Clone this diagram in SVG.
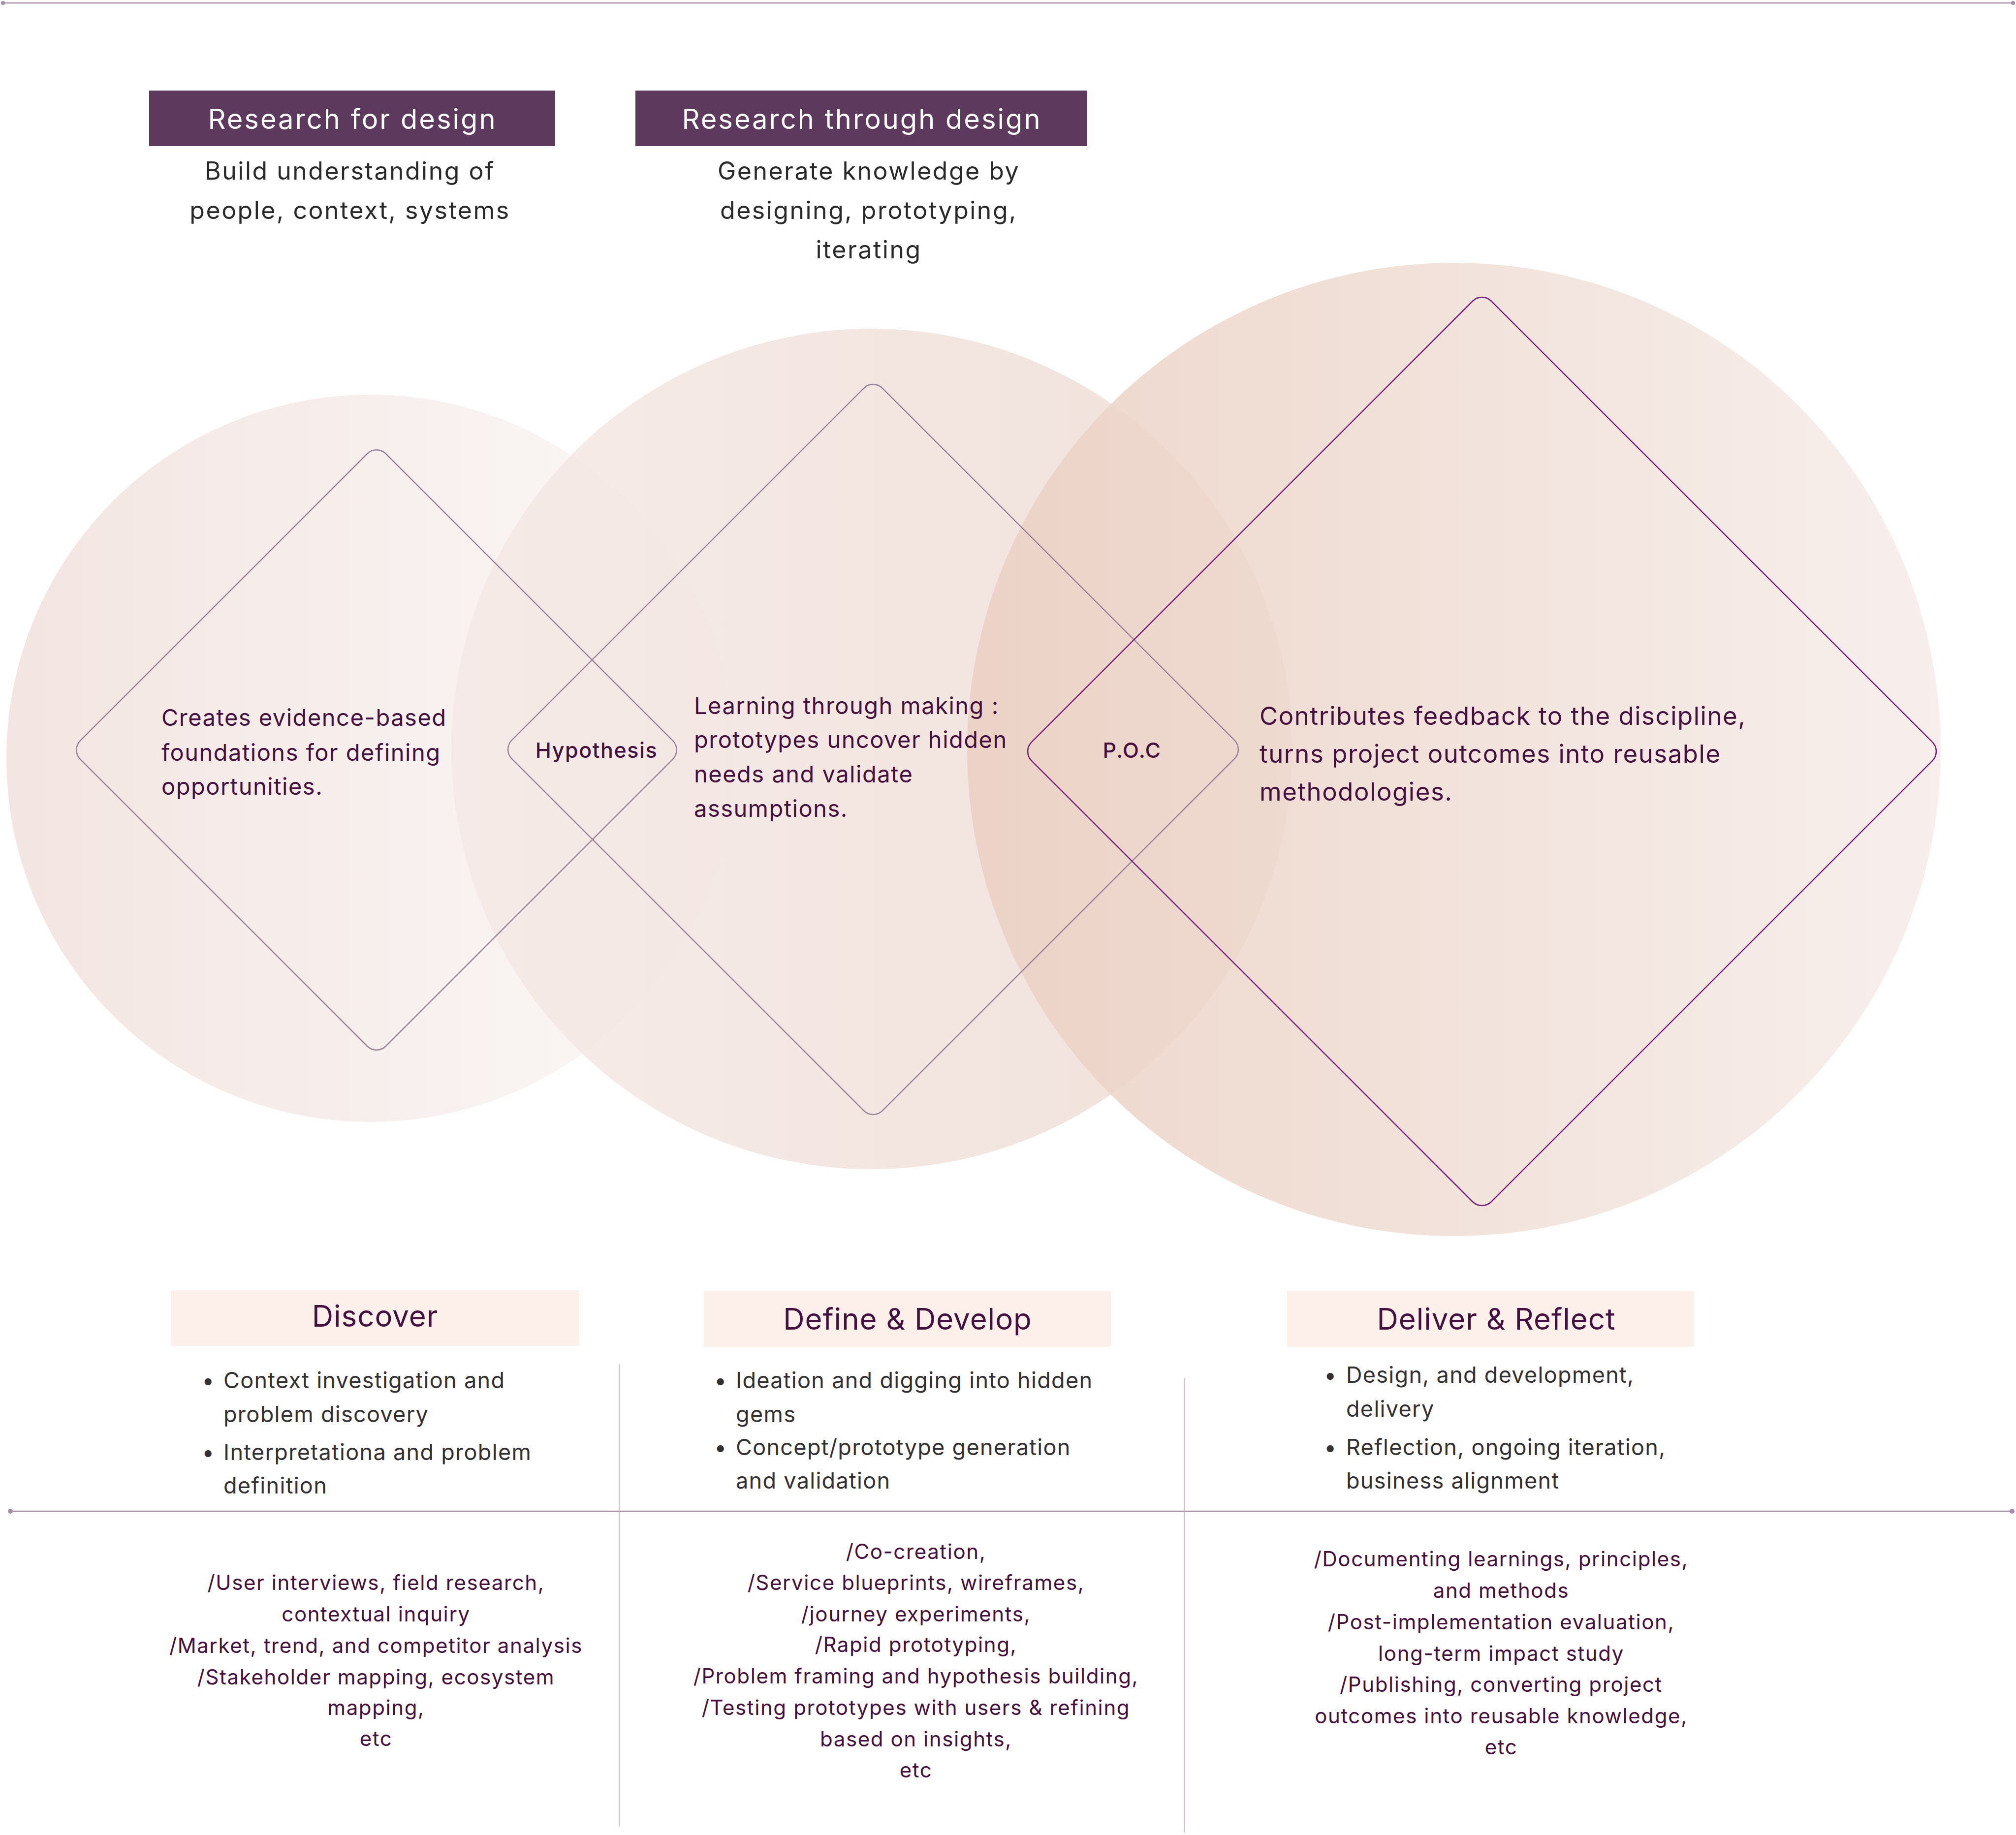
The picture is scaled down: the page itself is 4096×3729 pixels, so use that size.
<svg xmlns="http://www.w3.org/2000/svg" width="4096" height="3729" viewBox="0 0 4096 3729">
<defs>
<linearGradient id="gL" x1="0" y1="0" x2="1" y2="0">
<stop offset="0" stop-color="#f3e5e1"/><stop offset="0.6" stop-color="#f8f1ef"/><stop offset="1" stop-color="#fcf9f8"/>
</linearGradient>
<linearGradient id="gM" x1="0" y1="0" x2="1" y2="0">
<stop offset="0" stop-color="#f5e9e6"/><stop offset="1" stop-color="#eedbd3"/>
</linearGradient>
<linearGradient id="gR" x1="0" y1="0" x2="1" y2="0">
<stop offset="0" stop-color="#ebcfc2"/><stop offset="0.45" stop-color="#efdcd3"/><stop offset="1" stop-color="#f6ece9"/>
</linearGradient>
<style>
.rule{stroke:#a58ea4;stroke-width:2.5;fill:none}
.cap{fill:#a58ea4}
.div{stroke:#bcaebc;stroke-width:1.6}
.dia{fill:none;stroke:#9c8399;stroke-width:2.5}
.diaR{fill:none;stroke:#76207a;stroke-width:2.5}
.hbox{fill:#5e395e}
.pbox{fill:#fdf0ea}
text{font-family:Inter,"Open Sans","Liberation Sans",sans-serif}
.ht{fill:#ffffff;font-size:56px;letter-spacing:3px;text-anchor:middle}
.sub{fill:#2b282b;font-size:50px;letter-spacing:2.5px;text-anchor:middle}
.body{fill:#44103f;font-size:47px;letter-spacing:1.5px}
.bodyR{fill:#44103f;font-size:51px;letter-spacing:1.5px}
.tag{fill:#44103f;font-size:43px;font-weight:500;letter-spacing:1.6px;text-anchor:middle}
.ph{fill:#44103f;font-size:60px;letter-spacing:1px;text-anchor:middle}
.bl{fill:#333033;font-size:45px;letter-spacing:1.3px}
.ls{fill:#44103f;font-size:42px;letter-spacing:1.6px;text-anchor:middle}
</style>
</defs>
<rect width="4096" height="3729" fill="#ffffff"/>

<g id="circles">
<circle id="circle-left" cx="752" cy="1541" r="739" fill="url(#gL)"/>
<circle id="circle-middle" cx="1771" cy="1522" r="854" fill="url(#gM)" fill-opacity="0.85"/>
<circle id="circle-right" cx="2954" cy="1523" r="989" fill="url(#gR)" fill-opacity="0.85"/>
</g>

<g id="connectors">
<line class="rule" x1="6" y1="6" x2="4090" y2="6"/>
<circle class="cap" cx="6" cy="6" r="4"/>
<circle class="cap" cx="4090" cy="6" r="4"/>
<line class="rule" x1="21" y1="3071" x2="4088" y2="3071"/>
<circle class="cap" cx="21" cy="3071" r="5"/>
<circle class="cap" cx="4088" cy="3071" r="5"/>
<line class="div" x1="1258" y1="2772" x2="1258" y2="3712"/>
<line class="div" x1="2406" y1="2800" x2="2406" y2="3724"/>
</g>

<g id="diamond-discover">
<rect class="dia" x="326" y="1085" width="878" height="878" rx="27" transform="rotate(45 765 1524)"/>
<text class="body" x="328" y="1475">Creates evidence-based</text>
<text class="body" x="328" y="1546">foundations for defining</text>
<text class="body" x="328" y="1615">opportunities.</text>
</g>

<g id="diamond-define">
<rect class="dia" x="1241.5" y="990.5" width="1065" height="1065" rx="27" transform="rotate(45 1774 1523)"/>
<text class="body" x="1410" y="1451">Learning through making :</text>
<text class="body" x="1410" y="1520">prototypes uncover hidden</text>
<text class="body" x="1410" y="1590">needs and validate</text>
<text class="body" x="1410" y="1660">assumptions.</text>
</g>

<g id="diamond-deliver">
<rect class="diaR" x="2350.5" y="866.5" width="1321" height="1321" rx="27" transform="rotate(45 3011 1527)"/>
<text class="bodyR" x="2559" y="1473">Contributes feedback to the discipline,</text>
<text class="bodyR" x="2559" y="1550">turns project outcomes into reusable</text>
<text class="bodyR" x="2559" y="1627">methodologies.</text>
</g>

<g id="hypothesis">
<text class="tag" x="1212" y="1540">Hypothesis</text>
</g>
<g id="poc">
<text class="tag" x="2300" y="1540">P.O.C</text>
</g>

<g id="research-for-design">
<rect class="hbox" x="303" y="184" width="825" height="113"/>
<text class="ht" x="716" y="262">Research for design</text>
<text class="sub" x="711" y="365">Build understanding of</text>
<text class="sub" x="711" y="445">people, context, systems</text>
</g>

<g id="research-through-design">
<rect class="hbox" x="1291" y="184" width="918" height="113"/>
<text class="ht" x="1751" y="262">Research through design</text>
<text class="sub" x="1765" y="365">Generate knowledge by</text>
<text class="sub" x="1765" y="445">designing, prototyping,</text>
<text class="sub" x="1765" y="525">iterating</text>
</g>

<g id="phase-discover">
<rect class="pbox" x="348" y="2622" width="829" height="113"/>
<text class="ph" x="762" y="2696">Discover</text>
<text class="bl" x="410" y="2821">•</text>
<text class="bl" x="454" y="2821">Context investigation and</text>
<text class="bl" x="454" y="2890">problem discovery</text>
<text class="bl" x="410" y="2967">•</text>
<text class="bl" x="454" y="2967">Interpretationa and problem</text>
<text class="bl" x="454" y="3035">definition</text>
<text class="ls" x="764" y="3231">/User interviews, field research,</text>
<text class="ls" x="764" y="3295">contextual inquiry</text>
<text class="ls" x="764" y="3359">/Market, trend, and competitor analysis</text>
<text class="ls" x="764" y="3423">/Stakeholder mapping, ecosystem</text>
<text class="ls" x="764" y="3485">mapping,</text>
<text class="ls" x="764" y="3548">etc</text>
</g>

<g id="phase-define">
<rect class="pbox" x="1430" y="2624" width="827" height="113"/>
<text class="ph" x="1844" y="2702">Define &amp; Develop</text>
<text class="bl" x="1451" y="2821">•</text>
<text class="bl" x="1495" y="2821">Ideation and digging into hidden</text>
<text class="bl" x="1495" y="2890">gems</text>
<text class="bl" x="1451" y="2957">•</text>
<text class="bl" x="1495" y="2957">Concept/prototype generation</text>
<text class="bl" x="1495" y="3025">and validation</text>
<text class="ls" x="1861" y="3168">/Co-creation,</text>
<text class="ls" x="1861" y="3231">/Service blueprints, wireframes,</text>
<text class="ls" x="1861" y="3295">/journey experiments,</text>
<text class="ls" x="1861" y="3357">/Rapid prototyping,</text>
<text class="ls" x="1861" y="3421">/Problem framing and hypothesis building,</text>
<text class="ls" x="1861" y="3485">/Testing prototypes with users &amp; refining</text>
<text class="ls" x="1861" y="3549">based on insights,</text>
<text class="ls" x="1861" y="3612">etc</text>
</g>

<g id="phase-deliver">
<rect class="pbox" x="2615" y="2624" width="826" height="113"/>
<text class="ph" x="3040" y="2702">Deliver &amp; Reflect</text>
<text class="bl" x="2690" y="2810">•</text>
<text class="bl" x="2735" y="2810">Design, and development,</text>
<text class="bl" x="2735" y="2879">delivery</text>
<text class="bl" x="2690" y="2957">•</text>
<text class="bl" x="2735" y="2957">Reflection, ongoing iteration,</text>
<text class="bl" x="2735" y="3025">business alignment</text>
<text class="ls" x="3050" y="3183">/Documenting learnings, principles,</text>
<text class="ls" x="3050" y="3247">and methods</text>
<text class="ls" x="3050" y="3311">/Post-implementation evaluation,</text>
<text class="ls" x="3050" y="3375">long-term impact study</text>
<text class="ls" x="3050" y="3438">/Publishing, converting project</text>
<text class="ls" x="3050" y="3502">outcomes into reusable knowledge,</text>
<text class="ls" x="3050" y="3565">etc</text>
</g>
</svg>
